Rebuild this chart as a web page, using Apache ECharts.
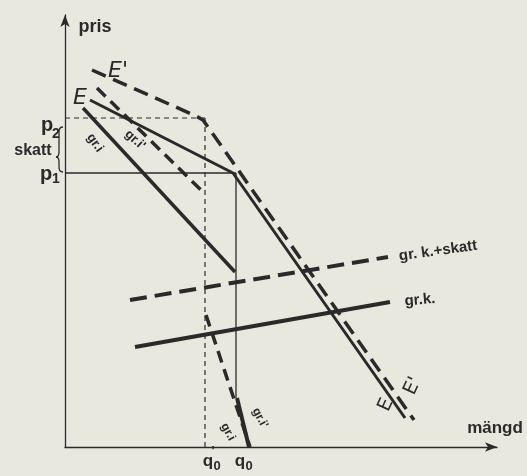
<!DOCTYPE html>
<html><head><meta charset="utf-8">
<script src="https://cdn.jsdelivr.net/npm/echarts@6/dist/echarts.min.js"></script>
<style>html,body{margin:0;padding:0;background:#e8e8df;}#c{width:527px;height:476px;}</style>
</head><body><div id="c"></div>
<script>
// units: x = quantity (mängd), y = price (pris)
const demandE      = [[25,347],[168,274],[340,29]];                 // E (kinked, solid)
const demandE2     = [[27,377],[131,331],[138,327],[143,320],[349,27]]; // E' (dashed)
const mrE_upper    = [[18,339],[170,175]];                          // gr.i upper
const mrE_lower    = [[172,49],[184,0]];                            // gr.i lower
const mrE2_upper   = [[32,359],[139,254]];                          // gr.i' upper
const mrE2_lower   = [[141,132],[185,0]];                           // gr.i' lower
const mcTax        = [[65,147],[323,190]];                          // gr.k.+skatt
const mc           = [[70,100],[325,145]];                          // gr.k.
const p1 = 274, p2 = 329, q0 = 171, q0p = 140, q0Gap = 49;
const p2Line  = [[0,p2],[q0p,p2]];
const q0pLine = [[q0p,p2],[q0p,0]];
const p1Line  = [[0,p1],[q0,p1]];
const q0Line  = [[q0,p1],[q0,q0Gap]];

const INK = '#2a2a2a';
const chart = echarts.init(document.getElementById('c'), null, {renderer:'canvas'});
function ser(data, width, type){
  return {type:'line', data, showSymbol:false, symbol:'none', silent:true, animation:false,
    lineStyle:{color:INK, width, type}};
}
const axisCommon = {type:'value', min:0, max:432, splitLine:{show:false}, axisTick:{show:false},
  axisLabel:{show:false},
  axisLine:{show:true, symbol:['none','arrow'], symbolSize:[7,12], lineStyle:{color:INK, width:1.3}}};
chart.setOption({
  backgroundColor:'#e8e8df',
  animation:false,
  grid:{left:65, top:15, width:432, height:432},
  xAxis:Object.assign({}, axisCommon),
  yAxis:Object.assign({}, axisCommon),
  series:[
    ser(p2Line,1.2,[5,4]), ser(q0pLine,1.2,[5,4]),
    ser(p1Line,1.3,'solid'), ser(q0Line,1.3,'solid'),
    ser(demandE,3,'solid'), ser(demandE2,3.5,[15,8]),
    ser(mrE_upper,3.5,'solid'), ser(mrE_lower,4,'solid'),
    ser(mrE2_upper,3.5,[12,7]), ser(mrE2_lower,3.5,[12,7]),
    ser(mcTax,4,[17,8]), ser(mc,4,'solid')
  ]
});
function P(x,y){return chart.convertToPixel({gridIndex:0},[x,y]);}
const FONT = '"Liberation Sans", Arial, sans-serif';
function txt(s, x, y, size, opts){
  opts = opts||{};
  const p = P(x,y);
  return {type:'text', x:p[0], y:p[1], rotation:(opts.rot||0)*Math.PI/180,
    style:{text:s, fill:INK, font:(opts.style||'')+' '+(opts.weight||'bold')+' '+size+'px '+(opts.family||FONT),
      textAlign:opts.align||'center', textVerticalAlign:'middle'}};
}
const labels = [
  txt('pris',30,420,18), txt('mängd',430,19,17),
  txt("E'",53,376,22,{style:'italic',weight:'normal',family:'"DejaVu Sans", sans-serif'}),
  txt('E',15,349,22,{style:'italic',weight:'normal',family:'"DejaVu Sans", sans-serif'}),
  txt('p',-18,322,20), txt('2',-9,313,14),
  txt('skatt',-32,296,16),
  txt('p',-19,273,20), txt('1',-9,268,14),
  txt('q',143,-14,17), txt('0',152,-19,13), txt("'",148,-4,13),
  txt('q',175,-14,17), txt('0',184,-19,13),
  txt('gr. k.+skatt',373,196,15,{rot:8}),
  txt('gr.k.',355,147,15,{rot:5}),
  txt('gr.i',30,304,13,{rot:-55}),
  txt("gr.i'",70,307,13,{rot:-42}),
  txt('gr.i',163,15,12,{rot:-62}),
  txt("gr.i'",195,29,12,{rot:-62}),
  txt("E'",348,61,19,{rot:65,weight:'normal',family:'"DejaVu Sans", sans-serif'}),
  txt('E',321,42,19,{rot:65,weight:'normal',family:'"DejaVu Sans", sans-serif'})
];
// brace between p1 and p2
const bt = P(-5,p2-9)[1], bb = P(-5,p1+1)[1], tipP = P(-9,290);
const bx = P(-5,0)[0] - 1, tx = tipP[0], ty = tipP[1];
const bs = {stroke:INK, fill:null, lineWidth:1.3};
const brace = [
  {type:'bezierCurve', shape:{x1:bx+4,y1:bt,cpx1:bx,cpy1:bt,x2:bx,y2:bt+5}, style:bs},
  {type:'line', shape:{x1:bx,y1:bt+5,x2:bx,y2:ty-5}, style:bs},
  {type:'bezierCurve', shape:{x1:bx,y1:ty-5,cpx1:bx,cpy1:ty,x2:tx,y2:ty}, style:bs},
  {type:'bezierCurve', shape:{x1:tx,y1:ty,cpx1:bx,cpy1:ty,x2:bx,y2:ty+5}, style:bs},
  {type:'line', shape:{x1:bx,y1:ty+5,x2:bx,y2:bb-5}, style:bs},
  {type:'bezierCurve', shape:{x1:bx,y1:bb-5,cpx1:bx,cpy1:bb,x2:bx+4,y2:bb}, style:bs}
];
chart.setOption({graphic:labels.concat(brace)});
</script></body></html>
